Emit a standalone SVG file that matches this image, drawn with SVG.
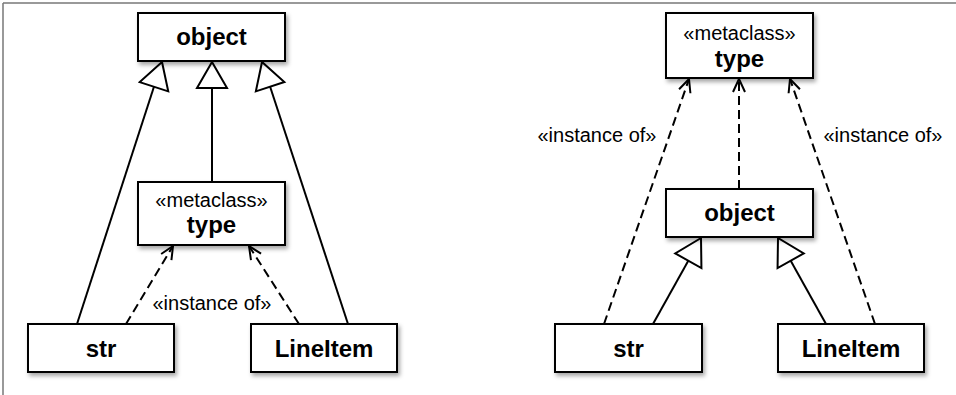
<svg xmlns="http://www.w3.org/2000/svg" width="956" height="395" viewBox="0 0 956 395">
<defs>
<style>
.box{fill:#fff;stroke:#000;stroke-width:2;filter:url(#sh)}
.ln{stroke:#000;stroke-width:2;fill:none}
.gen{marker-end:url(#tri)}
.dash{stroke-dasharray:9 5;marker-end:url(#open)}
.b{font-family:"Liberation Sans",Arial,Helvetica,sans-serif;font-weight:bold;font-size:24px;text-anchor:middle;fill:#000}
.r{font-family:"Liberation Sans",Arial,Helvetica,sans-serif;font-size:20px;text-anchor:middle;fill:#000}
</style>
<filter id="sh" x="-10%" y="-20%" width="130%" height="150%">
<feDropShadow dx="2" dy="3" stdDeviation="2" flood-color="#000" flood-opacity="0.35"/>
</filter>
<marker id="tri" markerUnits="userSpaceOnUse" markerWidth="40" markerHeight="40" viewBox="-30 -20 34 40" refX="0" refY="0" orient="auto">
<path d="M0,0 L-26,-15 L-26,15 Z" fill="#fff" stroke="#000" stroke-width="2" stroke-linejoin="miter"/>
</marker>
<marker id="open" markerUnits="userSpaceOnUse" markerWidth="20" markerHeight="20" viewBox="-16 -10 20 20" refX="0" refY="0" orient="auto">
<path d="M-13,-6 L0,0 L-13,6" fill="none" stroke="#000" stroke-width="2"/>
</marker>
</defs>
<rect width="956" height="395" fill="#fff"/>
<g id="frame">
<line x1="3" y1="3" x2="956" y2="3" stroke="#777" stroke-width="1.5"/>
<line x1="3" y1="3" x2="3" y2="395" stroke="#777" stroke-width="1.5"/>
</g>
<g id="connectors">
<line class="ln gen" x1="77" y1="324" x2="162" y2="62"/>
<line class="ln gen" x1="212" y1="182" x2="212" y2="62"/>
<line class="ln gen" x1="348" y1="324" x2="262" y2="62"/>
<line class="ln dash" x1="126" y1="324" x2="173" y2="246"/>
<line class="ln dash" x1="299" y1="324" x2="249" y2="246"/>
<text class="r" x="212" y="310">«instance of»</text>
<line class="ln dash" x1="604" y1="324" x2="689" y2="79"/>
<line class="ln dash" x1="739" y1="189" x2="739" y2="79"/>
<line class="ln dash" x1="875" y1="324" x2="790" y2="79"/>
<line class="ln gen" x1="653" y1="324" x2="701" y2="238"/>
<line class="ln gen" x1="826" y1="324" x2="778" y2="238"/>
<text class="r" x="597" y="142">«instance of»</text>
<text class="r" x="883" y="142">«instance of»</text>
</g>
<g id="L_object"><rect class="box" x="138" y="13" width="147" height="48"/><text class="b" x="211.5" y="45">object</text></g>
<g id="L_type"><rect class="box" x="138" y="182" width="147" height="63"/><text class="r" x="211.5" y="207">«metaclass»</text><text class="b" x="211.5" y="233">type</text></g>
<g id="L_str"><rect class="box" x="28" y="324" width="146" height="48"/><text class="b" x="101" y="357">str</text></g>
<g id="L_LineItem"><rect class="box" x="251" y="324" width="146" height="48"/><text class="b" x="324" y="357">LineItem</text></g>
<g id="R_type"><rect class="box" x="666" y="13" width="147" height="65"/><text class="r" x="739.5" y="40">«metaclass»</text><text class="b" x="739.5" y="67">type</text></g>
<g id="R_object"><rect class="box" x="666" y="189" width="147" height="48"/><text class="b" x="739.5" y="221">object</text></g>
<g id="R_str"><rect class="box" x="555" y="324" width="147" height="48"/><text class="b" x="628.5" y="357">str</text></g>
<g id="R_LineItem"><rect class="box" x="778" y="324" width="146" height="48"/><text class="b" x="851" y="357">LineItem</text></g>
</svg>
